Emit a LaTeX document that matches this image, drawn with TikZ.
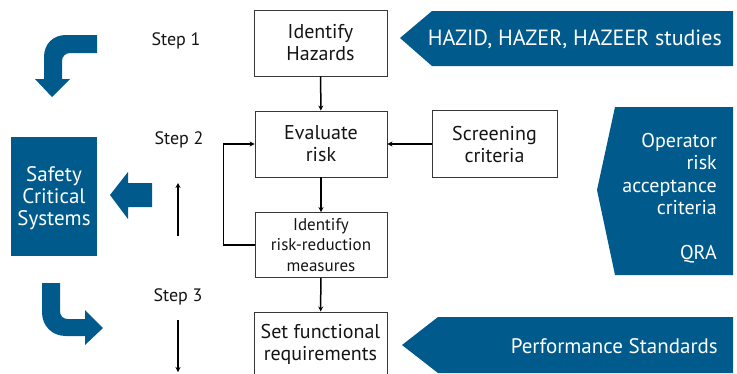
\documentclass[tikz,border=0pt]{standalone}
\usepackage{fontspec}
\setmainfont{PT Sans}
\usetikzlibrary{arrows.meta}
\definecolor{brand}{RGB}{0,91,140}
\definecolor{ink}{RGB}{20,20,20}

\begin{document}
\begin{tikzpicture}[x=1pt,y=-1pt,
  stepbox/.style={draw=ink!85, line width=0.9pt, align=center, inner sep=0pt,
    text=ink, font=\fontsize{20}{22}\selectfont},
  smallbox/.style={stepbox, font=\fontsize{17}{20.5}\selectfont},
  flow/.style={draw=black, line width=1.5pt, -{Stealth[length=5pt,width=5pt]}},
  steplabel/.style={text=ink, font=\fontsize{18}{20}\selectfont, inner sep=0pt},
  banner/.style={text=white, font=\fontsize{20}{22.5}\selectfont, inner sep=0pt},
]
\useasboundingbox (0,0) rectangle (737,373);

% process boxes
\node[stepbox, minimum width=133pt, minimum height=66pt] (haz) at (320.5,43) {Identify\\Hazards};
\node[stepbox, minimum width=132pt, minimum height=66pt] (eval) at (321,144) {Evaluate\\risk};
\node[smallbox, minimum width=132pt, minimum height=65pt] (rrm) at (321,245) {Identify\\risk-reduction\\measures};
\node[stepbox, minimum width=133pt, minimum height=64pt] (sfr) at (320.5,344) {Set functional\\requirements};
\node[stepbox, minimum width=125pt, minimum height=67pt] (scr) at (494.5,144) {Screening\\criteria};

% connectors
\draw[flow] (haz) -- (eval);
\draw[flow] (eval) -- (rrm);
\draw[flow] (rrm) -- (sfr);
\draw[flow] (scr) -- (eval);
\draw[flow] (rrm.west) -- ++(-31,0) |- (eval.west);

% step labels and their arrows
\node[steplabel] (s1) at (176,41) {Step 1};
\node[steplabel] (s2) at (179,140) {Step 2};
\node[steplabel] (s3) at (178,297) {Step 3};
\coordinate (upA) at (178,236);
\coordinate (upB) at (178,183);
\coordinate (dnA) at (178,320);
\coordinate (dnB) at (178,372);
\draw[flow] (upA) -- (upB);
\draw[flow] (dnA) -- (dnB);

% safety critical systems block
\node[fill=brand, minimum width=86pt, minimum height=119pt, inner sep=0pt] (scs) at (54,196.5) {};
\node[text=white, align=center, inner sep=0pt, font=\fontsize{21}{22}\selectfont]
  (scstext) at ([yshift=-2pt]scs.center) {Safety\\Critical\\Systems};

% block arrow pointing at it
\fill[brand] (110,195) -- (128,172) -- (128,183) -- (152,183) -- (152,207)
  -- (128,207) -- (128,219) -- cycle;

% bent arrow, top left
\fill[brand] (97,35) -- (66,35) .. controls (53,35) and (44,44) .. (44,57)
  -- (44,79) -- (35,79) -- (52,97) -- (70,79) -- (62,79) -- (62,61)
  .. controls (62,57) and (65,53) .. (70,53) -- (97,53) -- cycle;

% bent arrow, bottom left
\fill[brand] (42,283) -- (42,312) .. controls (42,326) and (52,336) .. (66,336)
  -- (85,336) -- (85,345) -- (103,328) -- (85,310) -- (85,319) -- (68,319)
  .. controls (63,319) and (60,316) .. (60,311) -- (60,283) -- cycle;

% banners on the right
\fill[brand] (400,38) -- (432,11) -- (733,11) -- (733,66) -- (432,66) -- cycle;
\node[banner, anchor=east, font=\fontsize{22}{24}\selectfont] (hazid) at (722,39) {HAZID, HAZER, HAZEER studies};

\fill[brand] (615,107) -- (733,107) -- (733,275) -- (615,275) -- (597,190) -- cycle;
\node[banner, anchor=north east, align=right] (opr) at (717,133)
  {Operator\\risk\\acceptance\\criteria\\[22.5pt]QRA};

\fill[brand] (402,345) -- (438,317) -- (733,317) -- (733,373) -- (438,373) -- cycle;
\node[banner, anchor=east, font=\fontsize{21}{24}\selectfont] (perf) at (718,346) {Performance Standards};
\end{tikzpicture}
\end{document}
